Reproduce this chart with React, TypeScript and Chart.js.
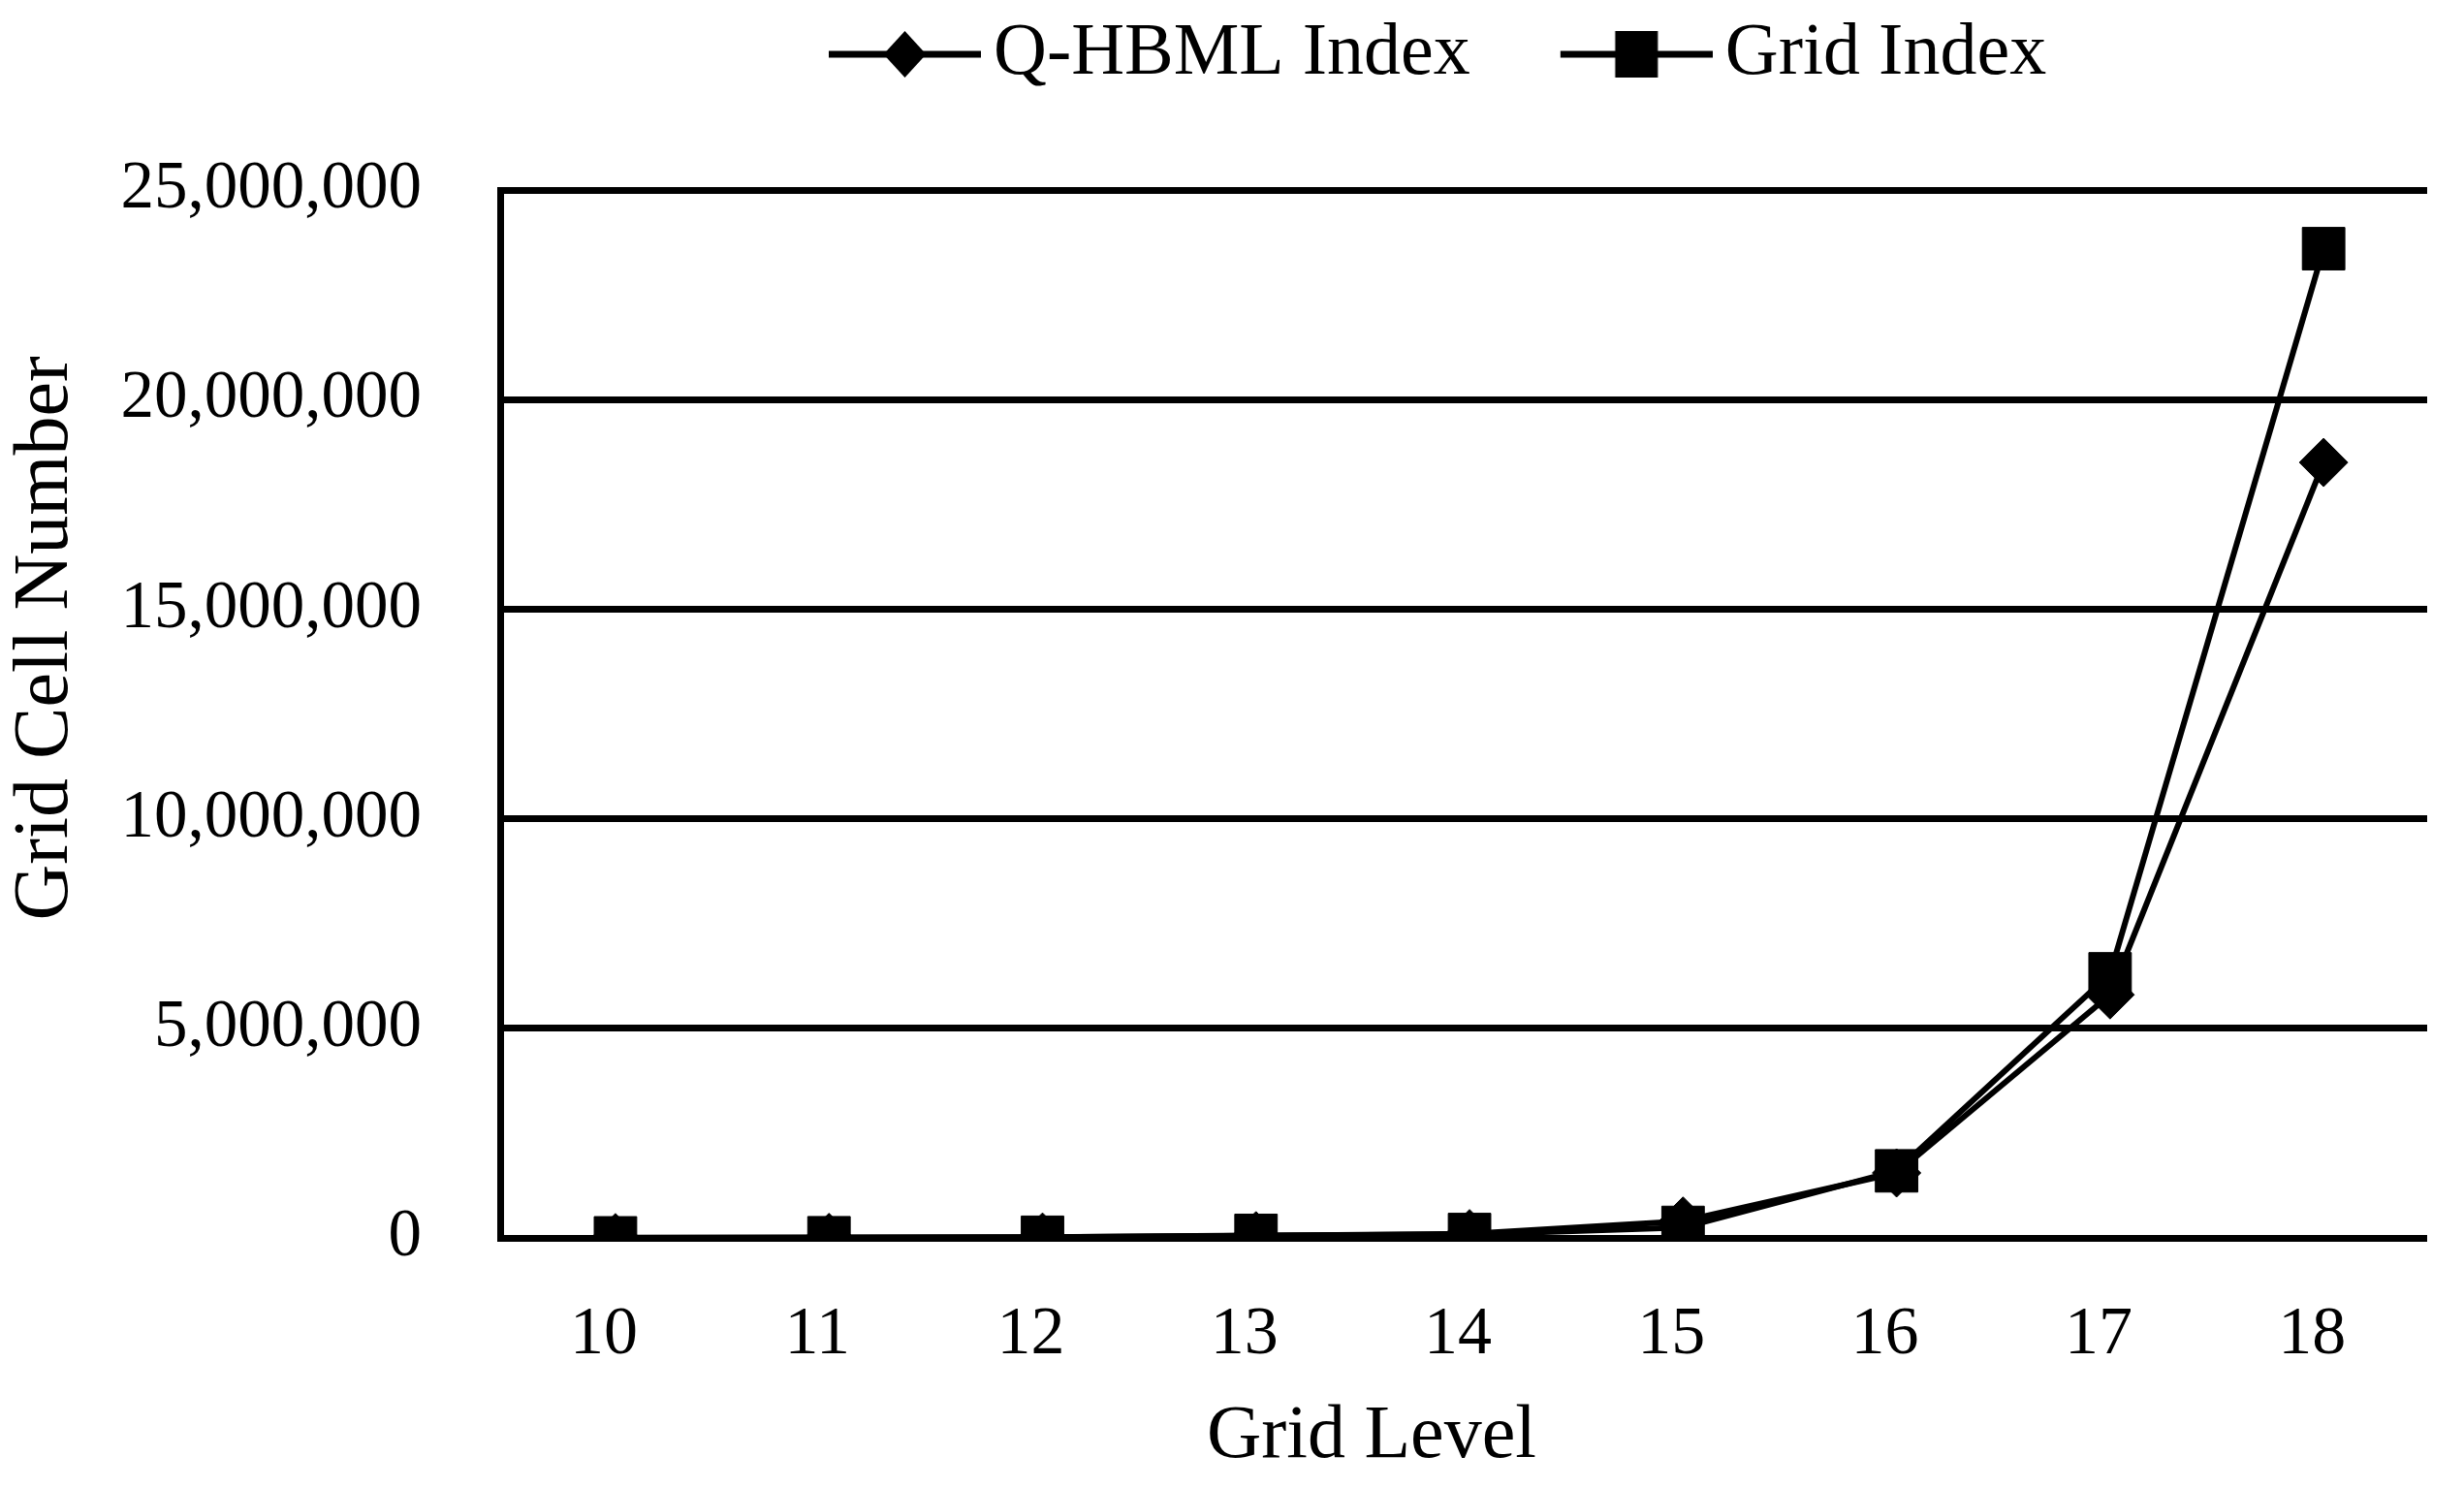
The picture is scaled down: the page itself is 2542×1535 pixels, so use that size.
import React, { useEffect, useRef } from 'react';
import { Chart, registerables } from 'chart.js';

Chart.register(...registerables);

// ---------- data ----------
const gridLevels = [10, 11, 12, 13, 14, 15, 16, 17, 18];
const qhbmlCells = [5000, 10000, 20000, 50000, 100000, 400000, 1550000, 5800000, 18500000];
const gridIndexCells = [1000, 4000, 15000, 60000, 80000, 250000, 1600000, 6300000, 23600000];
const seriesNames = ['Q-HBML Index', 'Grid Index'];
const yAxisMax = 25000000;
const yAxisStep = 5000000;
const xAxisTitle = 'Grid Level';
const yAxisTitle = 'Grid Cell Number';

// ---------- style / layout ----------
const SERIF = "'Liberation Serif', 'Times New Roman', Times, serif";
const W = 2542;
const H = 1535;
const LEGEND_HEIGHT = 196;
const LEGEND_LEFT = 762;
const X_TITLE_SHIFT = 95;
const Y_TITLE_SHIFT = 78;

function legendImage(kind: 'diamond' | 'square'): HTMLCanvasElement {
  const c = document.createElement('canvas');
  c.width = 257;
  c.height = 60;
  const ctx = c.getContext('2d')!;
  ctx.fillStyle = '#000';
  ctx.fillRect(100, 26.5, 157, 7);
  const cx = 178.5;
  const cy = 30;
  ctx.beginPath();
  if (kind === 'diamond') {
    ctx.moveTo(cx, cy - 24);
    ctx.lineTo(cx + 22, cy);
    ctx.lineTo(cx, cy + 24);
    ctx.lineTo(cx - 22, cy);
    ctx.closePath();
    ctx.fill();
  } else {
    ctx.fillRect(cx - 22, cy - 24, 44, 48);
  }
  return c;
}

const layoutTweaks = {
  id: 'layoutTweaks',
  beforeLayout(chart: any) {
    const lg = chart.legend;
    if (lg && !lg.__patched) {
      const fit = lg.fit;
      lg.fit = function () {
        fit.call(this);
        this.height = LEGEND_HEIGHT;
      };
      lg.__patched = true;
    }
  },
  afterLayout(chart: any) {
    const lg = chart.legend;
    if (lg) lg.left = LEGEND_LEFT;
    const sx = chart.scales.x;
    if (sx && !sx.__tp) {
      const o = sx.drawTitle;
      sx.drawTitle = function (...args: any[]) {
        const l = this.left, r = this.right;
        this.left = l - X_TITLE_SHIFT;
        this.right = r - X_TITLE_SHIFT;
        o.apply(this, args);
        this.left = l;
        this.right = r;
      };
      sx.__tp = true;
    }
    const sy = chart.scales.y;
    if (sy && !sy.__tp) {
      const o = sy.drawTitle;
      sy.drawTitle = function (...args: any[]) {
        const t = this.top, b = this.bottom;
        this.top = t - Y_TITLE_SHIFT;
        this.bottom = b - Y_TITLE_SHIFT;
        o.apply(this, args);
        this.top = t;
        this.bottom = b;
      };
      sy.__tp = true;
    }
  },
};

export default function App() {
  const ref = useRef<HTMLCanvasElement>(null);

  useEffect(() => {
    document.body.style.margin = '0';
    document.body.style.background = '#fff';
    const legendImages = [legendImage('diamond'), legendImage('square')];

    const chart = new Chart(ref.current!, {
      type: 'line',
      data: {
        datasets: [
          {
            label: seriesNames[0],
            data: gridLevels.map((x, i) => ({ x, y: qhbmlCells[i] })),
            borderColor: '#000',
            backgroundColor: '#000',
            borderWidth: 6,
            pointStyle: 'rectRot',
            pointRadius: 25,
            pointBorderWidth: 1,
            pointBorderColor: '#000',
            pointBackgroundColor: '#000',
            tension: 0,
            fill: false,
          },
          {
            label: seriesNames[1],
            data: gridLevels.map((x, i) => ({ x, y: gridIndexCells[i] })),
            borderColor: '#000',
            backgroundColor: '#000',
            borderWidth: 6,
            pointStyle: 'rect',
            pointRadius: 31,
            pointBorderWidth: 1,
            pointBorderColor: '#000',
            pointBackgroundColor: '#000',
            tension: 0,
            fill: false,
          },
        ],
      },
      options: {
        responsive: false,
        animation: false,
        devicePixelRatio: 1,
        layout: { padding: { left: 0, right: 38, top: 0, bottom: 0 } },
        plugins: {
          tooltip: { enabled: false },
          legend: {
            display: true,
            position: 'top',
            align: 'start',
            labels: {
              usePointStyle: true,
              pointStyleWidth: 207,
              padding: 18,
              color: '#000',
              font: { family: SERIF, size: 76 },
              generateLabels: (c: any) =>
                (Chart.defaults as any).plugins.legend.labels
                  .generateLabels(c)
                  .map((item: any, i: number) => ({ ...item, pointStyle: legendImages[i] })),
            },
          },
        },
        scales: {
          x: {
            type: 'linear',
            min: 9.46,
            max: 18.485,
            afterBuildTicks: (s: any) => {
              s.ticks = s.ticks.filter((t: any) => Number.isInteger(t.value));
            },
            afterFit: (s: any) => {
              s.height = H - 1277;
            },
            ticks: {
              stepSize: 1,
              includeBounds: false,
              padding: 51,
              labelOffset: -12,
              autoSkip: false,
              maxRotation: 0,
              color: '#000',
              font: { family: SERIF, size: 70 },
            },
            grid: { display: false },
            border: { display: false },
            title: {
              display: true,
              text: xAxisTitle,
              color: '#000',
              font: { family: SERIF, size: 78 },
              padding: { top: 0, bottom: 6 },
            },
          },
          y: {
            min: 0,
            max: yAxisMax,
            afterFit: (s: any) => {
              s.width = 516;
            },
            ticks: {
              stepSize: yAxisStep,
              padding: 81,
              color: '#000',
              font: { family: SERIF, size: 69 },
              callback: (v: any) => Number(v).toLocaleString('en-US'),
            },
            grid: { color: '#000', lineWidth: 7, drawTicks: false },
            border: { display: true, color: '#000', width: 7 },
            title: {
              display: true,
              text: yAxisTitle,
              color: '#000',
              font: { family: SERIF, size: 80 },
              padding: { top: 0, bottom: 0 },
            },
          },
        },
      },
      plugins: [layoutTweaks as any],
    });

    return () => chart.destroy();
  }, []);

  return (
    <div style={{ width: W, height: H, background: '#fff', overflow: 'hidden' }}>
      <canvas ref={ref} width={W} height={H} style={{ display: 'block' }} />
    </div>
  );
}
